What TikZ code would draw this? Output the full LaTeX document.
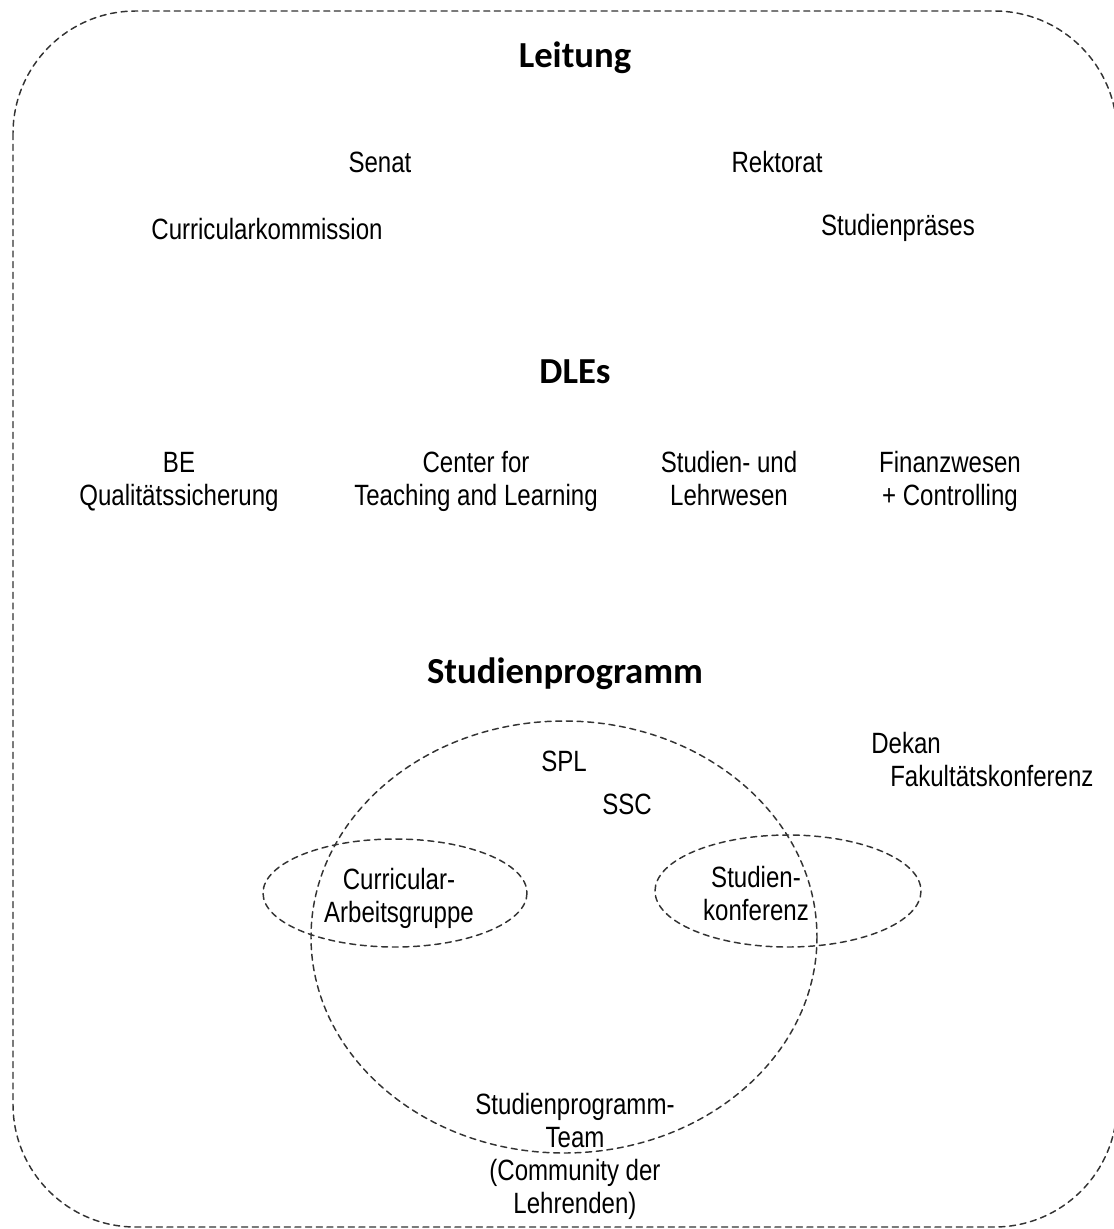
\documentclass[tikz,border=0pt]{standalone}
\usepackage{fontspec}
\setmainfont[FakeStretch=0.82]{Liberation Sans}
\newfontfamily\headfont{Carlito}
\usetikzlibrary{positioning}

\begin{document}
\begin{tikzpicture}[x=0.75pt, y=-0.75pt, line cap=round, line join=round,
    lbl/.style={inner sep=0pt, font=\fontsize{22}{24.75}\selectfont, align=center, anchor=base},
    head/.style={inner sep=0pt, font=\headfont\bfseries\fontsize{27.5}{33}\selectfont, anchor=base},
    dashline/.style={black!80, line width=1.1pt, dash pattern=on 4.5pt off 3.5pt}]

\useasboundingbox (0,0) rectangle (1114,1229);

% outer frame
\draw[dashline, rounded corners=92pt] (13,11) rectangle (1117,1227);

% Leitung
\node[head] (leit) at (575,67) {Leitung};
\node[lbl] (senat) at (380,172) {Senat};
\node[lbl] (rekt) at (777,172) {Rektorat};
\node[lbl] (cuko) at (267,239) {Curricularkommission};
\node[lbl] (praes) at (898,235) {Studienpräses};

% DLEs
\node[head] (dle) at (575,383) {DLEs};
\node[lbl] (be) at (179,505) {BE\\Qualitätssicherung};
\node[lbl] (ctl) at (476,505) {Center for\\Teaching and Learning};
\node[lbl] (slw) at (729,505) {Studien- und\\Lehrwesen};
\node[lbl] (fin) at (950,505) {Finanzwesen\\+ Controlling};

% Studienprogramm
\node[head] (sp) at (565,683) {Studienprogramm};
\draw[dashline] (564,937) ellipse [x radius=253, y radius=216];
\draw[dashline] (395,893) ellipse [x radius=132, y radius=54];
\draw[dashline] (788,891) ellipse [x radius=133, y radius=56];

\node[lbl] (spl) at (564,771) {SPL};
\node[lbl] (ssc) at (627,814) {SSC};
\node[lbl] (cag) at (399,922) {Curricular-\\Arbeitsgruppe};
\node[lbl] (sko) at (756,920) {Studien-\\konferenz};
\node[lbl] (team) at (575,1213) {Studienprogramm-\\Team\\(Community der\\Lehrenden)};
\node[lbl, anchor=base west] (dekan) at (871,753) {Dekan};
\node[lbl, anchor=base west] (fako) at (890,786) {Fakultätskonferenz};

\end{tikzpicture}
\end{document}
